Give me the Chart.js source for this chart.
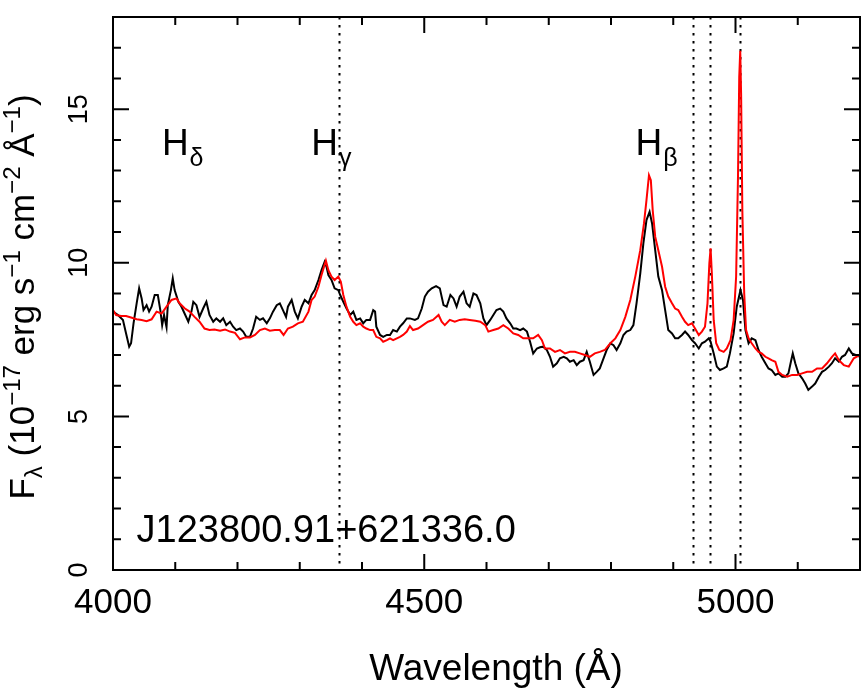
<!DOCTYPE html>
<html>
<head>
<meta charset="utf-8">
<script src="https://cdn.jsdelivr.net/npm/chart.js@4/dist/chart.umd.min.js"></script>
<style>
html,body{margin:0;padding:0;background:#fff;}
#c{display:block;}
</style>
</head>
<body>
<canvas id="c" width="861" height="692"></canvas>
<script>
// ---- data ----
const blackWave = [4000,4008,4016,4021,4026,4029,4033,4038,4042,4046,4049,4054,4058,4062,4067,4072,4076,4079,4082,4086,4088,4093,4096,4099,4105,4110,4115,4121,4126,4129,4134,4139,4145,4150,4155,4161,4166,4172,4177,4182,4188,4193,4198,4204,4209,4214,4220,4225,4230,
4236,4241,4247,4252,4257,4263,4268,4273,4278,4281,4287,4292,4297,4303,4308,4314,4319,4324,4330,4335,4340,4343,4346,4351,4356,4362,4365,4370,4375,4381,4386,4391,4397,4402,4407,4413,4418,4421,4423,4429,4434,4440,4445,4450,4456,4461,4466,4472,
4477,4485,4490,4496,4501,4506,4512,4519,4525,4531,4536,4542,4547,4552,4557,4563,4568,4573,4579,4584,4590,4595,4600,4606,4611,4616,4622,4627,4632,4638,4643,4648,4654,4659,4665,4670,4675,4681,4686,4691,4697,4702,4707,4713,4718,4724,4729,4734,4740,4745,4750,4756,4761,4766,4772,4777,
4782,4788,4793,4799,4804,4809,4815,4820,4825,4831,4836,4841,4847,4852,4857,4862,4866,4871,4876,4882,4887,4892,4898,4903,4908,4914,4919,4924,4930,4935,4941,4946,4951,4957,4960,4965,4970,4975,4981,4986,4991,4997,5002,5008,5012,5016,5021,5026,5032,5037,5042,5048,5053,5058,5064,5069,5075,5080,5085,5089,5092,5096,5101,5107,5112,5117,5123,5128,5134,5139,5144,5150,5155,5160,5166,5171,5176,5182,5187,5193,5200];
const blackFlux = [8.41,8.30,8.14,7.70,7.27,7.38,8.03,8.68,9.17,8.84,8.46,8.62,8.41,8.57,8.95,8.95,8.46,7.97,8.30,7.90,8.62,9.11,9.49,9.11,8.73,8.57,8.35,8.08,8.41,8.73,8.62,8.24,8.52,8.73,8.30,8.08,8.19,8.08,8.19,7.97,8.08,7.92,7.81,7.86,7.76,7.59,7.59,7.86,8.24,
8.14,8.19,8.03,8.19,8.41,8.62,8.68,8.46,8.24,8.57,8.79,8.41,8.19,8.57,8.79,8.68,8.95,9.11,9.44,9.76,10.03,9.87,9.60,9.44,9.17,9.11,8.95,8.73,8.52,8.30,8.41,8.14,8.19,8.03,8.14,8.14,8.46,8.41,7.92,7.65,7.59,7.65,7.65,7.81,7.76,7.92,8.03,8.19,
8.19,8.14,8.19,8.51,8.90,9.06,9.17,9.24,9.17,8.62,8.57,8.95,8.84,8.57,8.90,9.06,8.68,8.57,9.00,8.95,8.68,8.19,7.97,8.14,8.30,8.46,8.51,8.41,8.19,8.03,7.86,7.86,7.81,7.86,7.76,7.43,7.05,7.21,7.25,7.27,7.16,6.94,6.62,6.73,6.89,6.94,6.89,6.78,6.83,6.67,6.78,6.83,7.10,6.78,6.35,6.45,
6.56,6.89,7.16,7.38,7.32,7.16,7.38,7.65,7.76,7.81,7.97,8.68,9.65,10.63,11.39,11.66,11.28,10.41,9.55,9.11,8.46,7.81,7.70,7.54,7.54,7.65,7.76,7.65,7.48,7.38,7.21,7.38,7.43,7.54,7.43,7.05,6.62,6.51,6.56,6.62,7.05,7.70,8.57,9.11,8.79,7.81,7.38,7.54,7.48,7.16,6.94,6.73,6.56,6.51,6.35,6.40,6.29,6.29,6.40,6.78,7.05,6.73,6.40,6.24,6.07,5.86,5.97,6.07,6.29,6.45,6.51,6.62,6.73,6.89,6.78,6.94,7.00,7.21,7.05,7.00,6.94];

const redWave = [4000,4005,4013,4021,4029,4038,4046,4054,4062,4070,4078,4086,4094,4102,4107,4115,4123,4131,4139,4147,4155,4163,4172,4180,4188,4196,4204,4212,4220,4228,
4236,4244,4252,4260,4268,4274,4281,4289,4297,4305,4314,4319,4324,4330,4335,4339,4342,4346,4351,4356,4362,4366,4370,4375,4381,4386,4391,4397,4402,4407,4413,4418,4423,4429,4434,4440,4445,4450,4456,4461,4466,4472,
4477,4482,4490,4498,4506,4514,4523,4528,4533,4541,4549,4557,4565,4573,4582,4590,4598,4603,4611,4619,4627,4635,4643,4651,4659,4667,4675,4683,4689,4694,4702,4710,4718,4726,4734,4742,4750,4758,4766,4774,
4782,4790,4799,4807,4815,4823,4831,4839,4847,4853,4857,4861,4864,4867,4871,4876,4882,4887,4892,4898,4903,4908,4914,4919,4924,4930,4935,4941,4946,4951,4955,4958,4960,4962,4965,4969,4974,4981,4986,4992,4997,5001,5004,5006,5007.6,5009,5011,5014,5017,5021,5026,5032,5037,5042,5048,5053,5058,5064,5069,5075,5083,5091,5099,5107,5115,5123,5131,5139,5147,5155,5160,5166,5174,5182,5190,5200];
const redFlux = [8.46,8.30,8.27,8.27,8.22,8.16,8.14,8.10,8.16,8.41,8.35,8.57,8.79,8.84,8.68,8.52,8.41,8.24,8.08,7.86,7.81,7.83,7.79,7.83,7.76,7.72,7.51,7.57,7.57,7.65,
7.81,7.86,7.79,7.81,7.81,7.65,7.86,7.92,8.03,8.08,8.41,8.79,8.90,9.22,9.60,9.87,10.07,9.76,9.55,9.44,9.55,9.38,8.95,8.57,8.24,8.08,7.97,8.03,7.92,7.86,7.81,7.81,7.59,7.54,7.43,7.48,7.54,7.48,7.54,7.59,7.65,7.76,
7.94,7.81,7.86,7.97,8.08,8.14,8.30,8.08,7.97,8.14,8.08,8.14,8.16,8.14,8.11,8.08,7.97,7.76,7.81,7.86,7.97,7.86,7.70,7.65,7.54,7.54,7.54,7.65,7.48,7.21,7.21,7.10,7.16,7.05,7.10,7.10,7.05,7.00,6.94,7.05,
7.10,7.16,7.38,7.54,7.81,8.24,8.79,9.55,10.41,11.28,12.04,12.85,12.69,11.71,10.85,10.41,9.87,9.22,8.90,8.68,8.51,8.46,8.24,8.08,7.97,8.03,7.86,7.65,7.76,7.92,8.68,9.98,10.47,9.65,8.13,7.38,7.16,7.10,7.21,7.48,8.13,9.55,12.80,16.05,16.90,15.51,11.71,9.00,7.81,7.54,7.38,7.21,7.10,7.05,6.94,6.89,6.83,6.78,6.45,6.35,6.29,6.35,6.35,6.40,6.45,6.45,6.56,6.56,6.73,6.94,7.05,6.83,6.67,6.62,6.89,7.00];

const xMajorTicks = [4000, 4500, 5000];
const yMajorTicks = [0, 5, 10, 15];
const xMinorStep = 100;
const yMinorStep = 1;
const markerLines = [4363, 4932, 4959, 5007];
const lineLabels = [
  {main: 'H', sub: 'δ', wave: 4100},
  {main: 'H', sub: 'γ', wave: 4340},
  {main: 'H', sub: 'β', wave: 4861}
];
const objectName = 'J123800.91+621336.0';
const xTitle = 'Wavelength (Å)';

// ---- chart ----
const FONT = '"Liberation Sans", Arial, Helvetica, sans-serif';
const toXY = (w, f) => w.map((v, i) => ({x: v, y: f[i]}));

function drawRich(ctx, pieces, cx, cy) {
  let total = 0;
  pieces.forEach(p => { ctx.font = p.size + 'px ' + FONT; p.w = ctx.measureText(p.t).width; total += p.w; });
  let x = cx - total / 2;
  pieces.forEach(p => {
    ctx.font = p.size + 'px ' + FONT;
    ctx.fillText(p.t, x, cy + (p.dy || 0));
    x += p.w;
  });
}

const deco = {
  id: 'deco',
  beforeDatasetsDraw(chart) {
    const {ctx, chartArea: a, scales: {x}} = chart;
    ctx.save();
    ctx.strokeStyle = '#000';
    ctx.lineWidth = 2;
    ctx.setLineDash([2.5, 5.5]);
    markerLines.forEach(w => {
      const px = Math.round(x.getPixelForValue(w)) + 0.5;
      ctx.beginPath(); ctx.moveTo(px, a.top); ctx.lineTo(px, a.bottom); ctx.stroke();
    });
    ctx.restore();
  },
  afterDraw(chart) {
    const {ctx, chartArea: a, scales: {x, y}} = chart;
    ctx.save();
    ctx.strokeStyle = '#000';
    ctx.fillStyle = '#000';
    ctx.lineWidth = 2;
    ctx.setLineDash([]);
    ctx.strokeRect(a.left, a.top, a.right - a.left, a.bottom - a.top);
    // ticks, inward on all four sides
    ctx.beginPath();
    for (let v = x.min; v <= x.max + 1e-6; v += xMinorStep) {
      const px = x.getPixelForValue(v);
      const len = xMajorTicks.includes(v) ? 16 : 8;
      ctx.moveTo(px, a.bottom); ctx.lineTo(px, a.bottom - len);
      ctx.moveTo(px, a.top); ctx.lineTo(px, a.top + len);
    }
    for (let v = y.min; v <= y.max + 1e-6; v += yMinorStep) {
      const py = y.getPixelForValue(v);
      const len = yMajorTicks.includes(v) ? 16 : 8;
      ctx.moveTo(a.left, py); ctx.lineTo(a.left + len, py);
      ctx.moveTo(a.right, py); ctx.lineTo(a.right - len, py);
    }
    ctx.stroke();
    // x tick labels
    ctx.textAlign = 'center';
    ctx.textBaseline = 'alphabetic';
    ctx.font = '35px ' + FONT;
    xMajorTicks.forEach(v => ctx.fillText(String(v), x.getPixelForValue(v), 612.5));
    // y tick labels (rotated)
    ctx.font = '27px ' + FONT;
    yMajorTicks.forEach(v => {
      ctx.save();
      ctx.translate(87, y.getPixelForValue(v));
      ctx.rotate(-Math.PI / 2);
      ctx.fillText(String(v), 0, 0);
      ctx.restore();
    });
    // x title
    ctx.font = '37px ' + FONT;
    ctx.fillText(xTitle, 496, 680);
    // y title
    ctx.save();
    ctx.translate(34, 297);
    ctx.rotate(-Math.PI / 2);
    ctx.textAlign = 'left';
    drawRich(ctx, [
      {t: 'F', size: 35},
      {t: 'λ', size: 24, dy: 8},
      {t: ' (10', size: 35},
      {t: '−17', size: 24, dy: -14},
      {t: ' erg s', size: 35},
      {t: '−1', size: 24, dy: -14},
      {t: ' cm', size: 35},
      {t: '−2', size: 24, dy: -14},
      {t: ' Å', size: 35},
      {t: '−1', size: 24, dy: -14},
      {t: ')', size: 35}
    ], 0, 0);
    ctx.restore();
    // line labels
    lineLabels.forEach(l => {
      const px = x.getPixelForValue(l.wave);
      ctx.font = '37px ' + FONT;
      ctx.textAlign = 'center';
      const hw = ctx.measureText(l.main).width;
      ctx.fillText(l.main, px, 155);
      ctx.textAlign = 'left';
      ctx.font = '25px ' + FONT;
      ctx.fillText(l.sub, px + hw / 2 + 1, 166);
    });
    // object name
    ctx.textAlign = 'left';
    ctx.font = '38px ' + FONT;
    ctx.fillText(objectName, 136.5, 541.5);
    ctx.restore();
  }
};

new Chart(document.getElementById('c'), {
  type: 'line',
  data: {
    datasets: [
      {label: 'black', data: toXY(blackWave, blackFlux), borderColor: '#000000', borderWidth: 2, pointRadius: 0, tension: 0, fill: false, order: 2},
      {label: 'red', data: toXY(redWave, redFlux), borderColor: '#ff0000', borderWidth: 2, pointRadius: 0, tension: 0, fill: false, order: 1}
    ]
  },
  options: {
    responsive: false,
    animation: false,
    devicePixelRatio: 1,
    layout: {padding: {left: 113, right: 1, top: 17, bottom: 122}},
    plugins: {legend: {display: false}, tooltip: {enabled: false}},
    scales: {
      x: {type: 'linear', min: 4000, max: 5200, display: false},
      y: {type: 'linear', min: 0, max: 18, display: false}
    }
  },
  plugins: [deco]
});
</script>
</body>
</html>
